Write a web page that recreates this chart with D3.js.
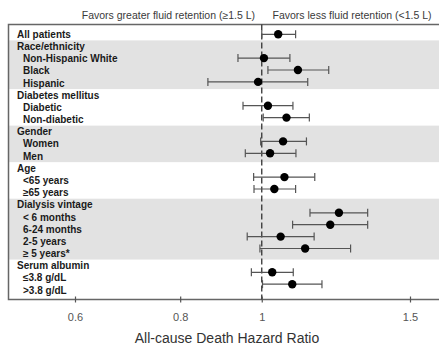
<!DOCTYPE html>
<html><head><meta charset="utf-8">
<script src="https://cdn.jsdelivr.net/npm/d3@7"></script>
<style>body{margin:0;background:#fff}svg{display:block}</style>
</head><body>
<svg id="c" width="439" height="349"></svg>
<script>
const labels = ["All patients","Race/ethnicity","Non-Hispanic White","Black","Hispanic","Diabetes mellitus","Diabetic","Non-diabetic","Gender","Women","Men","Age","<65 years","≥65 years","Dialysis vintage","< 6 months","6-24 months","2-5 years","≥ 5 years*","Serum albumin","≤3.8 g/dL",">3.8 g/dL"];
const isHeader = [true,true,false,false,false,true,false,false,true,false,false,true,false,false,true,false,false,false,false,true,false,false];
const hr    = [1.046,null,1.006,1.104,0.990,null,1.017,1.070,null,1.060,1.023,null,1.064,1.035,null,1.235,1.206,1.053,1.126,null,1.029,1.087];
const lower = [1.000,null,0.937,1.017,0.863,null,0.950,1.004,null,0.997,0.956,null,0.978,0.979,null,1.141,1.088,0.961,0.995,null,0.972,1.002];
const upper = [1.097,null,1.080,1.201,1.134,null,1.089,1.139,null,1.130,1.098,null,1.156,1.097,null,1.336,1.336,1.154,1.275,null,1.090,1.179];
const shadedGroups = [[1,4],[8,10],[14,18]];
const tickValues = [0.6,0.8,1,1.5];
const tickLabels = ["0.6","0.8","1","1.5"];
const leftTitle = "Favors greater fluid retention (≥1.5 L)";
const rightTitle = "Favors less fluid retention (<1.5 L)";
const axisTitle = "All-cause Death Hazard Ratio";

const svg = d3.select("#c");
const font = "Liberation Sans, Arial, Helvetica, sans-serif";
const idx = d3.range(labels.length);
const x = d3.scaleLog().domain([0.6,1.5]).range([75,410]);
const yLab = d3.scalePoint().domain(idx).range([34.3,290]);
const yMark = d3.scalePoint().domain(idx).range([34.3,284.2]);
const step = yLab.step();
const frameL = 8.5, frameT = 24.5, frameB = 299.5, W = 439;

// shaded bands
svg.selectAll("rect.band").data(shadedGroups).join("rect")
  .attr("x", frameL).attr("width", W-frameL)
  .attr("y", d => yLab(d[0]) - step/2)
  .attr("height", d => yLab(d[1]) - yLab(d[0]) + step)
  .attr("fill", "#e2e2e2");

// frame
svg.append("path")
  .attr("d", `M${W},${frameT}H${frameL}V${frameB}H${W}`)
  .attr("fill","none").attr("stroke","#666").attr("stroke-width",1.5);

// reference line
svg.append("line").attr("x1",x(1)).attr("x2",x(1))
  .attr("y1",frameT).attr("y2",frameB)
  .attr("stroke","#333").attr("stroke-width",1.3).attr("stroke-dasharray","6,3");

// ticks
const ax = d3.axisBottom(x).tickValues(tickValues).tickFormat((d,i)=>tickLabels[i]).tickSize(6).tickPadding(8);
const g = svg.append("g").attr("transform",`translate(0,${frameB})`).call(ax);
g.select(".domain").remove();
g.selectAll(".tick line").attr("stroke","#555").attr("stroke-width",1.2).attr("transform","translate(0,-3)");
g.selectAll(".tick text").attr("font-family",font).attr("font-size",11).attr("fill","#555");

// labels
svg.selectAll("text.lab").data(idx).join("text")
  .attr("x", i => isHeader[i] ? 17 : 23)
  .attr("y", i => yLab(i)).attr("dy","0.36em")
  .attr("font-family",font).attr("font-weight","bold").attr("font-size",10)
  .attr("fill","#1a1a1a").text(i => labels[i]);

// error bars
const pts = idx.filter(i => hr[i] != null);
const eb = svg.selectAll("g.eb").data(pts).join("g").attr("stroke","#555").attr("stroke-width",1.2);
eb.append("line").attr("x1",i=>x(lower[i])).attr("x2",i=>x(upper[i])).attr("y1",i=>yMark(i)).attr("y2",i=>yMark(i));
eb.append("line").attr("x1",i=>x(lower[i])).attr("x2",i=>x(lower[i])).attr("y1",i=>yMark(i)-4).attr("y2",i=>yMark(i)+4);
eb.append("line").attr("x1",i=>x(upper[i])).attr("x2",i=>x(upper[i])).attr("y1",i=>yMark(i)-4).attr("y2",i=>yMark(i)+4);
svg.selectAll("circle.pt").data(pts).join("circle")
  .attr("cx",i=>x(hr[i])).attr("cy",i=>yMark(i)).attr("r",4.2).attr("fill","#000");

// titles
svg.append("text").attr("x",255).attr("y",15).attr("dy","0.35em").attr("text-anchor","end")
  .attr("font-family",font).attr("font-size",10.5).attr("fill","#3a3a3a").text(leftTitle);
svg.append("text").attr("x",272.5).attr("y",15).attr("dy","0.35em")
  .attr("font-family",font).attr("font-size",10.5).attr("fill","#3a3a3a").text(rightTitle);
svg.append("text").attr("x",227).attr("y",338).attr("dy","0.35em").attr("text-anchor","middle")
  .attr("font-family",font).attr("font-size",14).attr("fill","#333").text(axisTitle);
</script>
</body></html>
